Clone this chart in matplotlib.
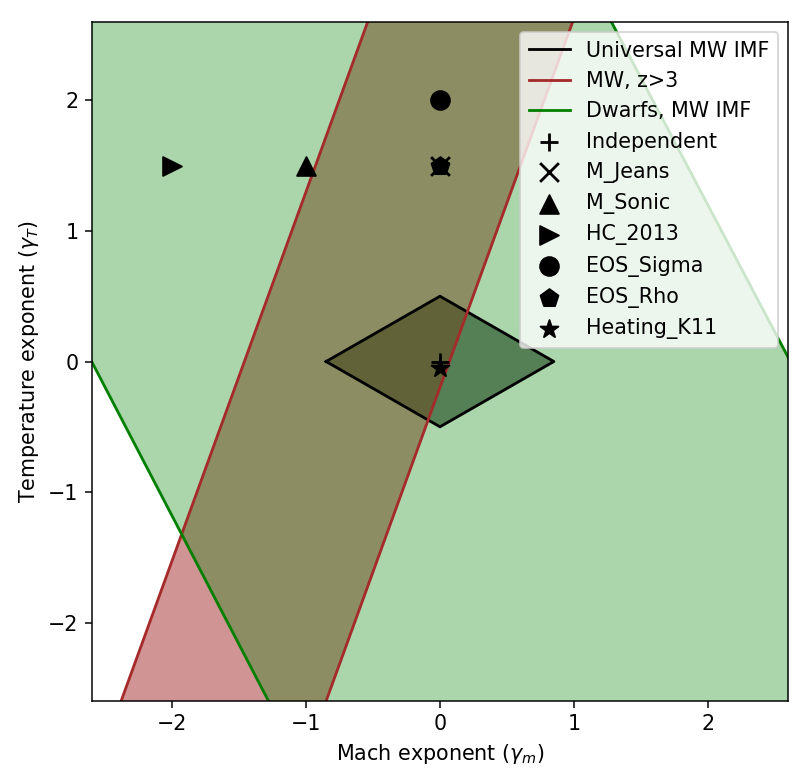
import matplotlib
matplotlib.use('Agg')
import matplotlib.pyplot as plt
import numpy as np

plt.rcParams['font.size'] = 11

# Allowed regions in the (Mach exponent, Temperature exponent) plane

# Universal MW IMF: diamond outline
mw_x = [-0.85, 0.0, 0.85, 0.0, -0.85]
mw_y = [0.0, 0.5, 0.0, -0.5, 0.0]

# MW, z>3: band edges given at y = -2.6 and y = 2.6
band_y = [-2.6, 2.6]
red_left_x = [-2.38, -0.54]
red_right_x = [-0.85, 0.99]

# Dwarfs, MW IMF: two bounding lines (x, y end points)
green_left_x = [-2.6, -1.28]
green_left_y = [0.0, -2.6]
green_right_x = [1.28, 2.6]
green_right_y = [2.6, 0.03]

# models
model_names = ['Independent', 'M_Jeans', 'M_Sonic', 'HC_2013',
               'EOS_Sigma', 'EOS_Rho', 'Heating_K11']
model_markers = ['+', 'x', '^', '>', 'o', 'p', '*']
model_gm = [0.0, 0.0, -1.0, -2.0, 0.0, 0.0, 0.0]
model_gt = [0.0, 1.5, 1.5, 1.5, 2.0, 1.5, -0.05]


def line_x(xs, ys, y):
    # x on the line through two points, for given y
    slope = (xs[1] - xs[0]) / (ys[1] - ys[0])
    return xs[0] + slope * (y - ys[0])


fig = plt.figure(figsize=(812 / 135, 783 / 135), dpi=135)
ax = fig.add_axes([0.1129, 0.1047, 0.8579, 0.8672])

yy = np.array([-5.0, 5.0])

# fills: diamond first, then red band, then green region
ax.fill(mw_x, mw_y, color='black', alpha=0.5, lw=0)
ax.fill_betweenx(yy, line_x(red_left_x, band_y, yy), line_x(red_right_x, band_y, yy),
                 color='brown', alpha=0.5, lw=0)
ax.fill_betweenx(yy, line_x(green_left_x, green_left_y, yy),
                 line_x(green_right_x, green_right_y, yy),
                 color='green', alpha=0.33, lw=0)

# outlines
ax.plot(mw_x, mw_y, color='black', lw=1.5, label='Universal MW IMF')
ax.plot(line_x(red_left_x, band_y, yy), yy, color='brown', lw=1.5, label='MW, z>3')
ax.plot(line_x(red_right_x, band_y, yy), yy, color='brown', lw=1.5)
ax.plot(line_x(green_left_x, green_left_y, yy), yy, color='green', lw=1.5,
        label='Dwarfs, MW IMF')
ax.plot(line_x(green_right_x, green_right_y, yy), yy, color='green', lw=1.5)

for name, mk, gm, gt in zip(model_names, model_markers, model_gm, model_gt):
    ax.scatter(gm, gt, marker=mk, s=100, color='black', label=name, zorder=3)

ax.set_xlim(-2.6, 2.6)
ax.set_ylim(-2.6, 2.6)
ax.set_xticks([-2, -1, 0, 1, 2])
ax.set_yticks([-2, -1, 0, 1, 2])
ax.set_xlabel('Mach exponent ($\\gamma_m$)')
ax.set_ylabel('Temperature exponent ($\\gamma_T$)')

ax.legend(loc='upper right', scatterpoints=1)

fig.savefig('out.png', dpi=135)
